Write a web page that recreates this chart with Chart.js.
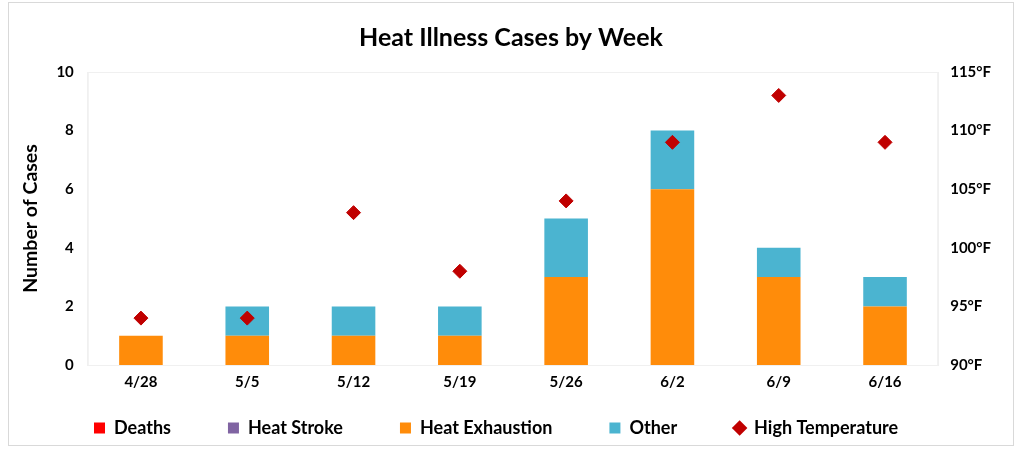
<!DOCTYPE html>
<html>
<head>
<meta charset="utf-8">
<script src="https://cdn.jsdelivr.net/npm/chart.js@4/dist/chart.umd.min.js"></script>
<style>
  html, body { margin: 0; padding: 0; background: #fff; }
  #wrap { position: absolute; left: 8px; top: 2px; width: 1006px; height: 444px; border: 1px solid #d9d9d9; box-sizing: border-box; }
  canvas { display: block; }
</style>
</head>
<body>
<div id="wrap"><canvas id="heatChart"></canvas></div>
<script>
const weeks = ["4/28", "5/5", "5/12", "5/19", "5/26", "6/2", "6/9", "6/16"];
const deaths = [0, 0, 0, 0, 0, 0, 0, 0];
const heatStroke = [0, 0, 0, 0, 0, 0, 0, 0];
const heatExhaustion = [1, 1, 1, 1, 3, 6, 3, 2];
const other = [0, 1, 1, 1, 2, 2, 1, 1];
const highTemp = [94, 94, 103, 98, 104, 109, 113, 109];

Chart.defaults.font.family = "Lato, 'Open Sans', sans-serif";
Chart.defaults.color = "#000";

// legend gets a big item gap, so pull it back up under the axis
// (and widen its clip box), plus the faint plot frame
const tweaks = {
  id: "tweaks",
  afterLayout(chart) {
    const lg = chart.legend;
    lg.top -= 37;
    lg.left += 18;
    lg.bottom = chart.height;
    lg.height = lg.bottom - lg.top;
    lg.width = lg.right - lg.left;
  },
  beforeDatasetsDraw(chart) {
    const { ctx, chartArea: a } = chart;
    ctx.save();
    ctx.strokeStyle = "#f0f0f0";
    ctx.lineWidth = 1;
    ctx.strokeRect(a.left + 0.5, a.top + 0.5, a.right - a.left - 1, a.bottom - a.top);
    ctx.restore();
  }
};

const chartCanvas = document.getElementById("heatChart");
new Chart(chartCanvas, {
  data: {
    labels: weeks,
    datasets: [
      { type: "bar", label: "Deaths", data: deaths, backgroundColor: "#FF0000", yAxisID: "y", order: 2 },
      { type: "bar", label: "Heat Stroke", data: heatStroke, backgroundColor: "#8064A2", yAxisID: "y", order: 2 },
      { type: "bar", label: "Heat Exhaustion", data: heatExhaustion, backgroundColor: "#FF8C0A", yAxisID: "y", order: 2 },
      { type: "bar", label: "Other", data: other, backgroundColor: "#4BB4D0", yAxisID: "y", order: 2 },
      {
        type: "line", label: "High Temperature", data: highTemp, yAxisID: "y2", order: 1,
        showLine: false, pointStyle: "rectRot", pointRadius: 7, pointHoverRadius: 7,
        backgroundColor: "#C00000", borderColor: "#C00000", borderWidth: 1
      }
    ]
  },
  options: {
    responsive: true,
    maintainAspectRatio: false,
    animation: false,
    layout: { padding: { left: 10, right: 10, top: 10, bottom: 8 } },
    datasets: { bar: { barPercentage: 0.41, categoryPercentage: 1 } },
    plugins: {
      title: {
        display: true,
        text: "Heat Illness Cases by Week",
        font: { size: 25, weight: "bold" },
        padding: { top: 10, bottom: 19 }
      },
      legend: {
        position: "bottom",
        align: "start",
        maxHeight: 38,
        labels: {
          usePointStyle: true,
          boxWidth: 11,
          boxHeight: 11,
          padding: 57,
          font: { size: 18, weight: "bold" },
          generateLabels: (chart) => {
            const items = Chart.defaults.plugins.legend.labels.generateLabels(chart);
            items.sort((a, b) => a.datasetIndex - b.datasetIndex);
            items.forEach((it) => {
              it.pointStyle = it.datasetIndex === 4 ? "rectRot" : "rect";
              it.lineWidth = 0;
            });
            return items;
          }
        }
      },
      tooltip: { enabled: false }
    },
    scales: {
      x: {
        stacked: true,
        grid: { display: false, drawTicks: false },
        border: { color: "#f0f0f0" },
        ticks: { font: { size: 15, weight: "bold" }, padding: 8 }
      },
      y: {
        stacked: true,
        position: "left",
        min: 0, max: 10,
        ticks: { stepSize: 2, font: { size: 15, weight: "bold" }, padding: 14 },
        grid: { display: false, drawTicks: false },
        border: { color: "#f0f0f0" },
        title: { display: true, text: "Number of Cases", font: { size: 19.5, weight: "bold" }, padding: { top: 0, bottom: 0 } }
      },
      y2: {
        position: "right",
        min: 90, max: 115,
        ticks: { stepSize: 5, font: { size: 15, weight: "bold" }, padding: 12, callback: (v) => v + "°F" },
        grid: { display: false, drawTicks: false },
        border: { color: "#f0f0f0" }
      }
    }
  },
  plugins: [tweaks]
});
</script>
</body>
</html>
